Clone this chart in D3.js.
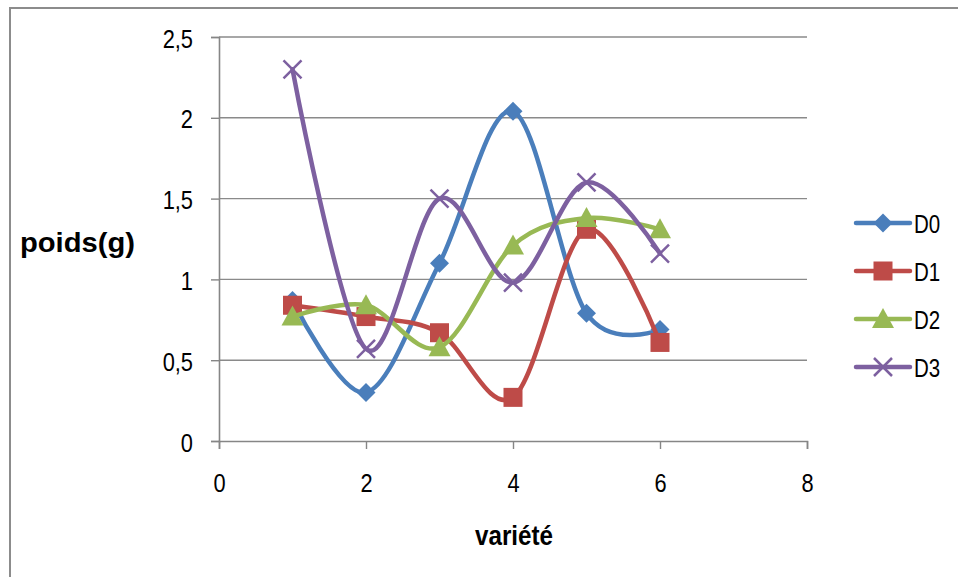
<!DOCTYPE html>
<html><head><meta charset="utf-8">
<script src="https://cdn.jsdelivr.net/npm/d3@7"></script>
<style>
body{margin:0;background:#fff;}
svg text{font-family:"Liberation Sans",Arial,sans-serif;fill:#000;}
</style></head>
<body>
<svg id="c" width="958" height="577"></svg>
<script>
const xValues = [1, 2, 3, 4, 5, 6];
const seriesNames = ["D0", "D1", "D2", "D3"];
const D0 = [0.87, 0.30, 1.10, 2.04, 0.79, 0.69];
const D1 = [0.84, 0.77, 0.67, 0.27, 1.31, 0.61];
const D2 = [0.77, 0.84, 0.58, 1.21, 1.38, 1.31];
const D3 = [2.30, 0.57, 1.50, 0.98, 1.60, 1.16];
const yTicks = [0, 0.5, 1, 1.5, 2, 2.5];
const xTicks = [0, 2, 4, 6, 8];
const colors = ["#4a7ebb", "#be4b48", "#98b954", "#7d60a0"];
const markers = ["diamond", "square", "triangle", "cross"];

const svg = d3.select("#c");
// outer frame (extends past the image edges)
svg.append("rect").attr("x", 10).attr("y", 8).attr("width", 1000).attr("height", 620)
  .attr("fill", "none").attr("stroke", "#8c8c8c").attr("stroke-width", 2);

const x = d3.scaleLinear().domain([0, 8]).range([219, 807]);
const y = d3.scaleLinear().domain([0, 2.5]).range([441, 37]);
const fmt = d => String(d).replace(".", ",");

// gridlines
svg.append("g").selectAll("line").data(yTicks.filter(d => d > 0)).join("line")
  .attr("x1", x(0)).attr("x2", x(8)).attr("y1", d => y(d)).attr("y2", d => y(d))
  .attr("stroke", "#8a8a8a").attr("stroke-width", 1.4);

// y axis
const yAx = svg.append("g").attr("transform", `translate(${x(0)},0)`)
  .call(d3.axisLeft(y).tickValues(yTicks).tickFormat(fmt).tickSize(8));
yAx.select(".domain").attr("stroke", "#868686").attr("stroke-width", 1.6);
yAx.selectAll(".tick line").attr("stroke", "#868686").attr("stroke-width", 1.4);
yAx.selectAll("text").attr("font-size", 26).attr("fill", "#000")
  .attr("font-family", "'Liberation Sans',Arial,sans-serif")
  .attr("x", 0).attr("dy", null).attr("y", 0)
  .attr("transform", "translate(-26,10) scale(0.84,1)");

// x axis
const xAx = svg.append("g").attr("transform", `translate(0,${y(0)})`)
  .call(d3.axisBottom(x).tickValues(xTicks).tickFormat(fmt).tickSize(8));
xAx.select(".domain").attr("stroke", "#868686").attr("stroke-width", 1.6);
xAx.selectAll(".tick line").attr("stroke", "#868686").attr("stroke-width", 1.4);
xAx.selectAll("text").attr("font-size", 26).attr("fill", "#000")
  .attr("font-family", "'Liberation Sans',Arial,sans-serif")
  .attr("y", 0).attr("dy", null)
  .attr("transform", "translate(0,51) scale(0.84,1)");

// axis titles
svg.append("text").attr("x", 475).attr("y", 545)
  .attr("font-size", 27).attr("font-weight", "bold")
  .attr("textLength", 78).attr("lengthAdjust", "spacingAndGlyphs").text("variété");
svg.append("text").attr("x", 20).attr("y", 252)
  .attr("font-size", 27).attr("font-weight", "bold")
  .attr("textLength", 115).attr("lengthAdjust", "spacingAndGlyphs").text("poids(g)");

const allSeries = [D0, D1, D2, D3];
const line = d3.line().x((d, i) => x(xValues[i])).y(d => y(d)).curve(d3.curveCatmullRom.alpha(0));

function marker(g, type, cx, cy, color) {
  if (type === "diamond") {
    g.append("path").attr("d", `M${cx},${cy-9.5}L${cx+9.5},${cy}L${cx},${cy+9.5}L${cx-9.5},${cy}Z`).attr("fill", color);
  } else if (type === "square") {
    g.append("rect").attr("x", cx-9.5).attr("y", cy-9.5).attr("width", 19).attr("height", 19).attr("fill", color);
  } else if (type === "triangle") {
    g.append("path").attr("d", `M${cx},${cy-11}L${cx+11},${cy+9}L${cx-11},${cy+9}Z`).attr("fill", color);
  } else {
    g.append("path").attr("d", `M${cx-9},${cy-9}L${cx+9},${cy+9}M${cx+9},${cy-9}L${cx-9},${cy+9}`)
      .attr("stroke", color).attr("stroke-width", 2.5).attr("fill", "none");
  }
}

allSeries.forEach((s, k) => {
  const g = svg.append("g");
  g.append("path").attr("d", line(s)).attr("fill", "none").attr("stroke", colors[k])
    .attr("stroke-width", 4.5).attr("stroke-linejoin", "round").attr("stroke-linecap", "round");
  s.forEach((v, i) => marker(g, markers[k], x(xValues[i]), y(v), colors[k]));
});

// legend
const legY = d3.scaleLinear().domain([0, 3]).range([223, 367]);
seriesNames.forEach((n, k) => {
  const g = svg.append("g");
  const ly = legY(k);
  g.append("line").attr("x1", 856).attr("x2", 910).attr("y1", ly).attr("y2", ly)
    .attr("stroke", colors[k]).attr("stroke-width", 4.5).attr("stroke-linecap", "round");
  marker(g, markers[k], 883, ly, colors[k]);
  g.append("text").attr("x", 0).attr("y", 0).attr("font-size", 25)
    .attr("transform", `translate(914,${ly + 10}) scale(0.82,1)`).text(n);
});
</script>
</body></html>
